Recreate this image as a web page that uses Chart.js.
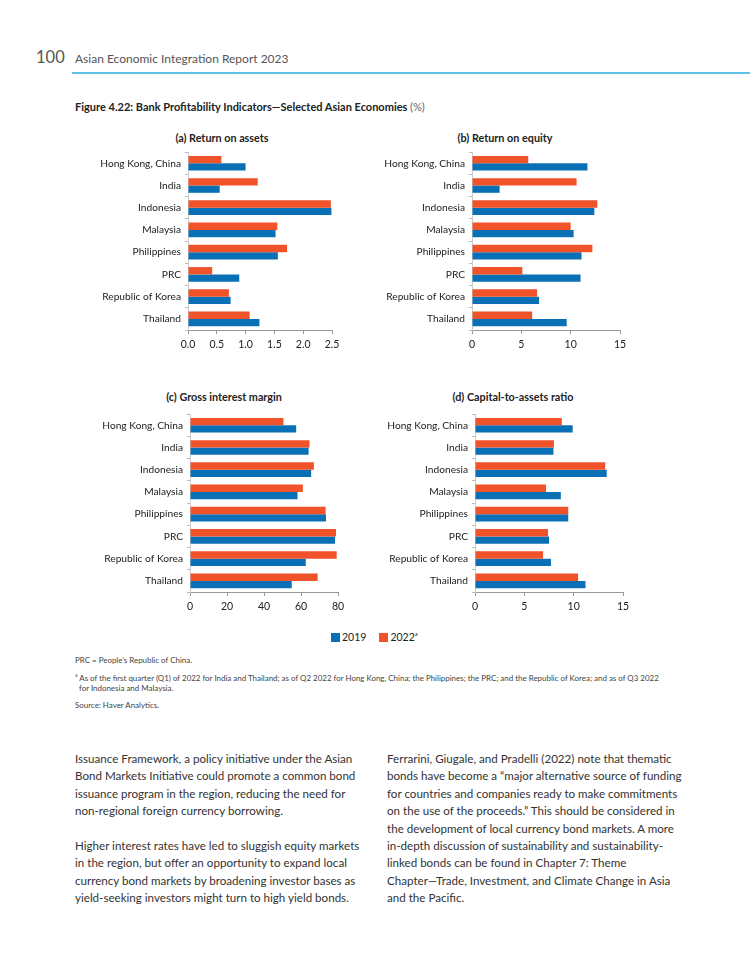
<!DOCTYPE html>
<html>
<head>
<meta charset="utf-8">
<script src="https://cdn.jsdelivr.net/npm/chart.js@4.4.1/dist/chart.umd.min.js"></script>
<style>
body { margin: 0; background: #fff; font-family: Lato, "Noto Sans", sans-serif; color: #333; }
#page { position: relative; width: 750px; height: 971px; overflow: hidden; }
.abs { position: absolute; white-space: nowrap; }
.ptitle { position: absolute; font-weight: bold; font-size: 10.8px; color: #222; transform: translateX(-50%); white-space: nowrap; }
canvas { position: absolute; }
.body { position: absolute; font-size: 11.6px; line-height: 17.4px; color: #333; white-space: nowrap; }
.note { position: absolute; left: 75px; font-size: 7.95px; color: #444; white-space: nowrap; }
.sq { display: inline-block; width: 9px; height: 9px; vertical-align: -1px; margin-right: 2px; }
</style>
</head>
<body>
<div id="page">
  <div class="abs" style="left:36px; top:47px; font-size:16.5px; color:#555;">100</div>
  <div class="abs" style="left:75px; top:51px; font-size:12px; color:#555;">Asian Economic Integration Report 2023</div>
  <div class="abs" style="left:72px; top:72px; width:678px; height:1.5px; background:#5cc3e6;"></div>

  <div class="abs" style="left:75px; top:100px; font-size:11px; font-weight:bold; color:#222;">Figure 4.22: Bank Profitability Indicators—Selected Asian Economies <span style="font-weight:normal; color:#666;">(%)</span></div>

  <div class="ptitle" style="left:222px; top:131px;">(a) Return on assets</div>
  <div class="ptitle" style="left:505px; top:131px;">(b) Return on equity</div>
  <div class="ptitle" style="left:224px; top:390px;">(c) Gross interest margin</div>
  <div class="ptitle" style="left:513px; top:390px;">(d) Capital-to-assets ratio</div>

  <canvas id="roa" width="259" height="213" style="left:88px; top:142px;"></canvas>
  <canvas id="roe" width="263" height="213" style="left:372px; top:142px;"></canvas>
  <canvas id="gim" width="263" height="213" style="left:90px; top:404px;"></canvas>
  <canvas id="car" width="263" height="213" style="left:375px; top:404px;"></canvas>

  <div class="abs" id="legend" style="left:331px; top:630px; font-size:10.5px; color:#222;"></div>

  <div class="note" style="top:655px;">PRC = People’s Republic of China.</div>
  <div class="note" style="top:672px;"><sup style="font-size:5px;">a</sup> As of the first quarter (Q1) of 2022 for India and Thailand; as of Q2 2022 for Hong Kong, China; the Philippines; the PRC; and the Republic of Korea; and as of Q3 2022</div>
  <div class="note" style="top:683px; left:79px;">for Indonesia and Malaysia.</div>
  <div class="note" style="top:700px;">Source: Haver Analytics.</div>

  <div class="body" style="left:75px; top:750px;">Issuance Framework, a policy initiative under the Asian<br>Bond Markets Initiative could promote a common bond<br>issuance program in the region, reducing the need for<br>non-regional foreign currency borrowing.<br><br>Higher interest rates have led to sluggish equity markets<br>in the region, but offer an opportunity to expand local<br>currency bond markets by broadening investor bases as<br>yield-seeking investors might turn to high yield bonds.</div>
  <div class="body" style="left:387px; top:750px;">Ferrarini, Giugale, and Pradelli (2022) note that thematic<br>bonds have become a “major alternative source of funding<br>for countries and companies ready to make commitments<br>on the use of the proceeds.” This should be considered in<br>the development of local currency bond markets. A more<br>in-depth discussion of sustainability and sustainability-<br>linked bonds can be found in Chapter 7: Theme<br>Chapter—Trade, Investment, and Climate Change in Asia<br>and the Pacific.</div>
</div>

<script>
const economies = ['Hong Kong, China', 'India', 'Indonesia', 'Malaysia', 'Philippines', 'PRC', 'Republic of Korea', 'Thailand'];

// (a) return on assets
const roa2019 = [1.00, 0.55, 2.49, 1.52, 1.56, 0.89, 0.74, 1.24];
const roa2022 = [0.58, 1.21, 2.48, 1.55, 1.72, 0.42, 0.71, 1.07];
// (b) return on equity
const roe2019 = [11.7, 2.8, 12.4, 10.3, 11.1, 11.0, 6.8, 9.6];
const roe2022 = [5.7, 10.6, 12.7, 10.0, 12.2, 5.1, 6.6, 6.1];
// (c) gross interest margin
const gim2019 = [57.4, 64.1, 65.5, 58.1, 73.5, 78.4, 62.6, 55.0];
const gim2022 = [50.5, 64.6, 67.0, 61.0, 73.3, 78.9, 79.3, 69.0];
// (d) capital-to-assets ratio
const car2019 = [9.9, 7.95, 13.35, 8.7, 9.45, 7.5, 7.7, 11.2];
const car2022 = [8.8, 8.0, 13.2, 7.2, 9.45, 7.4, 6.9, 10.45];

const seriesNames = ['2019', '2022'];
const BLUE = '#0a70b6';
const RED = '#f0522a';
const FONT = 'Lato, "Noto Sans", sans-serif';

function drawPanel(id, v2019, v2022, max, step, decimals) {
	const ctx = document.getElementById(id).getContext('2d');
	return new Chart(ctx, {
		type: 'bar',
		data: {
			labels: economies,
			datasets: [
				{ label: seriesNames[1], data: v2022, backgroundColor: RED },
				{ label: seriesNames[0], data: v2019, backgroundColor: BLUE }
			]
		},
		options: {
			indexAxis: 'y',
			responsive: false,
			animation: false,
			layout: { padding: { top: 6, right: 15, left: 0, bottom: 0 } },
			datasets: { bar: { categoryPercentage: 0.66, barPercentage: 1 } },
			plugins: {
				legend: { display: false },
				tooltip: { enabled: false }
			},
			scales: {
				x: {
					min: 0,
					max: max,
					ticks: {
						stepSize: step,
						callback: v => v.toFixed(decimals),
						font: { family: FONT, size: 10.5 },
						color: '#222',
						padding: 4,
						maxRotation: 0
					},
					grid: { drawOnChartArea: false, tickLength: 4, color: '#999' },
					border: { color: '#999' },
					afterFit: s => { s.height = 25; }
				},
				y: {
					ticks: { font: { family: FONT, size: 10.2 }, color: '#222', padding: 4 },
					grid: { drawOnChartArea: false, tickLength: 3, color: '#bbb', offset: true },
					border: { color: '#ccc' },
					afterFit: s => { s.width = 100; }
				}
			}
		}
	});
}

drawPanel('roa', roa2019, roa2022, 2.5, 0.5, 1);
drawPanel('roe', roe2019, roe2022, 15, 5, 0);
drawPanel('gim', gim2019, gim2022, 80, 20, 0);
drawPanel('car', car2019, car2022, 15, 5, 0);

document.getElementById('legend').innerHTML =
	'<span class="sq" style="background:' + BLUE + '"></span>' + seriesNames[0] +
	'<span style="display:inline-block;width:13px"></span>' +
	'<span class="sq" style="background:' + RED + '"></span>' + seriesNames[1] + '<sup style="font-size:6px">a</sup>';
</script>
</body>
</html>
